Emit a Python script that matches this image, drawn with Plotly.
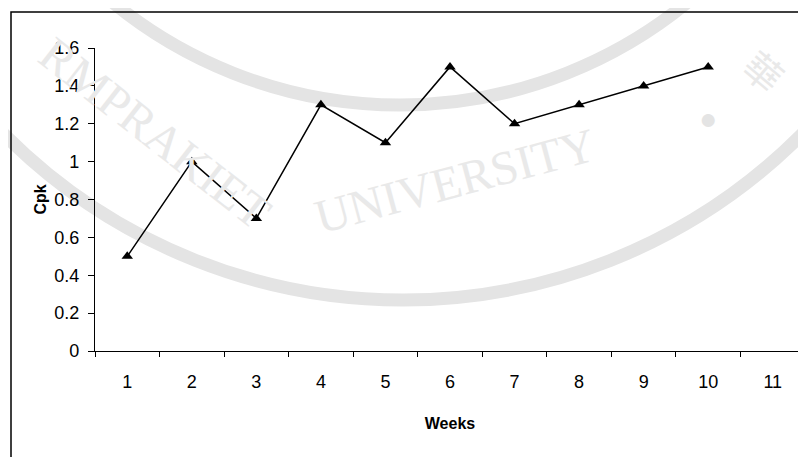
import plotly.graph_objects as go

weeks = [1, 2, 3, 4, 5, 6, 7, 8, 9, 10]
cpk = [0.5, 1.0, 0.7, 1.3, 1.1, 1.5, 1.2, 1.3, 1.4, 1.5]
x_tick_vals = [1, 2, 3, 4, 5, 6, 7, 8, 9, 10, 11]
x_tick_text = ["1", "2", "3", "4", "5", "6", "7", "8", "9", "10", "11"]
x_minor_vals = [0.5, 1.5, 2.5, 3.5, 4.5, 5.5, 6.5, 7.5, 8.5, 9.5, 10.5, 11.5]

# the page body has an 8px default margin; figure is sized to fill the window
OFF = 8
W, H = 806 - OFF, 457 - OFF
# plot area in window pixels: x 95..805, y 48..351
ML, MR, MT, MB = 95 - OFF, W - (805 - OFF), 48 - OFF, H - (351 - OFF)
PW, PH = W - ML - MR, H - MT - MB


def px(x):
    return (x - OFF - ML) / PW


def py(y):
    return (H - MB - (y - OFF)) / PH


font = "Liberation Sans, Arial, sans-serif"
wm = "#e4e4e4"
wm_txt = "#e9e9e9"

fig = go.Figure()
fig.add_trace(go.Scatter(
    x=weeks, y=cpk, mode="lines+markers",
    line=dict(color="black", width=1.5),
    marker=dict(symbol="triangle-up", size=10, color="black"),
    showlegend=False, hoverinfo="skip",
))

shapes = []
# watermark arcs (window-pixel circles converted to paper coords)
for cx, cy, r, w in [(400, -348, 453, 13), (403, -263, 563, 13)]:
    shapes.append(dict(type="circle", xref="paper", yref="paper",
                       x0=px(cx - r), x1=px(cx + r), y0=py(cy + r), y1=py(cy - r),
                       line=dict(color=wm, width=w), layer="below"))
# outer frame
shapes.append(dict(type="rect", xref="paper", yref="paper",
                   x0=px(11), x1=px(812), y0=py(470), y1=py(12),
                   line=dict(color="black", width=1.5), layer="below"))

wm_font = "Liberation Serif, serif"
annotations = [
    dict(text="RMPRAKIET", x=px(155), y=py(132), xref="paper", yref="paper",
         xanchor="center", yanchor="middle",
         showarrow=False, textangle=38, font=dict(family=wm_font, size=48, color=wm_txt)),
    dict(text="UNIVERSITY", x=px(455), y=py(180), xref="paper", yref="paper",
         xanchor="center", yanchor="middle",
         showarrow=False, textangle=-15, font=dict(family=wm_font, size=48, color=wm_txt)),
    dict(text="●", x=px(708), y=py(118), xref="paper", yref="paper",
         xanchor="center", yanchor="middle",
         showarrow=False, font=dict(family=font, size=30, color=wm)),
    dict(text="華", x=px(765), y=py(70), xref="paper", yref="paper",
         xanchor="center", yanchor="middle",
         showarrow=False, textangle=40, font=dict(family="Noto Sans CJK TC", size=38, color=wm_txt)),
]

fig.update_layout(
    width=W, height=H,
    margin=dict(l=ML, r=MR, t=MT, b=MB, pad=0),
    paper_bgcolor="white", plot_bgcolor="rgba(0,0,0,0)",
    font=dict(family=font, size=18, color="black"),
    shapes=shapes, annotations=annotations,
    xaxis=dict(
        range=[0.5, 11.5], tickmode="array", tickvals=x_tick_vals, ticktext=x_tick_text,
        ticks="outside", ticklen=14, tickcolor="rgba(0,0,0,0)",
        tickfont=dict(size=18),
        minor=dict(tickmode="array", tickvals=x_minor_vals, ticks="outside", ticklen=5,
                   tickcolor="black", tickwidth=1, showgrid=False),
        showline=True, linecolor="black", linewidth=1.2, showgrid=False, zeroline=False,
        title=dict(text="<b>Weeks</b>", font=dict(size=16), standoff=27),
        fixedrange=True,
    ),
    yaxis=dict(
        range=[0, 1.6], dtick=0.2, tick0=0,
        ticks="outside", ticklen=6, tickcolor="black", tickwidth=1,
        tickfont=dict(size=18), ticksuffix=" ",
        showline=True, linecolor="black", linewidth=1.2, showgrid=False, zeroline=False,
        title=dict(text="<b>Cpk</b>", font=dict(size=16), standoff=3),
        fixedrange=True,
    ),
)

fig.write_html("out.html")
